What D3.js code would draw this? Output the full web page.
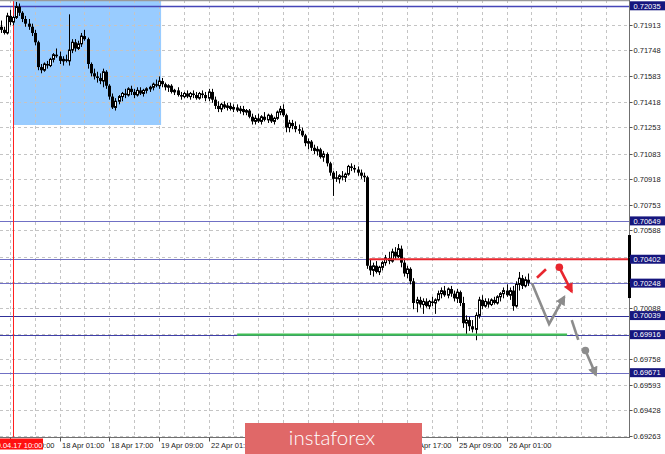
<!DOCTYPE html>
<html><head><meta charset="utf-8">
<script src="https://cdn.jsdelivr.net/npm/d3@7"></script>
<style>html,body{margin:0;padding:0;background:#fff;overflow:hidden}</style>
</head><body><svg id="c" width="665" height="454"></svg>
<script>
// H1 candles [open, high, low, close], first bar 2019.04.17 06:00
const candles = [
[0.7190,0.7194,0.7186,0.7188],[0.7188,0.7190,0.7185,0.7186],[0.7186,0.7199,0.7185,0.7197],[0.7197,0.7201,0.7191,0.7193],
[0.7193,0.7197,0.7191,0.7196],[0.7196,0.7206,0.7195,0.7203],[0.7203,0.7205,0.7197,0.7199],[0.7199,0.7200,0.7193,0.7195],
[0.7195,0.7197,0.7190,0.7192],[0.7192,0.7195,0.7188,0.7190],[0.7190,0.7192,0.7184,0.7186],[0.7186,0.7188,0.7178,0.7180],
[0.7180,0.7181,0.7162,0.7164],[0.7164,0.7166,0.7160,0.7162],[0.7162,0.7167,0.7161,0.7166],[0.7166,0.7168,0.7163,0.7165],
[0.7165,0.7170,0.7164,0.7169],[0.7169,0.7173,0.7167,0.7172],[0.7172,0.7176,0.7170,0.7171],[0.7171,0.7174,0.7166,0.7168],
[0.7168,0.7171,0.7165,0.7169],[0.7169,0.7172,0.7167,0.7168],[0.7168,0.7198,0.7165,0.7175],[0.7175,0.7182,0.7173,0.7180],
[0.7180,0.7182,0.7174,0.7176],[0.7176,0.7181,0.7175,0.7179],[0.7179,0.7186,0.7177,0.7184],[0.7184,0.7188,0.7181,0.7182],
[0.7182,0.7183,0.7163,0.7166],[0.7166,0.7167,0.7158,0.7160],[0.7160,0.7163,0.7156,0.7158],[0.7158,0.7161,0.7154,0.7157],
[0.7157,0.7160,0.7153,0.7155],[0.7155,0.7163,0.7151,0.7161],[0.7161,0.7162,0.7150,0.7152],[0.7152,0.7153,0.7143,0.7145],
[0.7145,0.7147,0.7137,0.7138],[0.7138,0.7144,0.7136,0.7142],[0.7142,0.7146,0.7140,0.7145],[0.7145,0.7148,0.7142,0.7147],
[0.7147,0.7150,0.7144,0.7146],[0.7146,0.7151,0.7145,0.7150],[0.7150,0.7152,0.7146,0.7148],[0.7148,0.7150,0.7144,0.7146],
[0.7146,0.7151,0.7145,0.7149],[0.7149,0.7151,0.7146,0.7147],[0.7147,0.7150,0.7145,0.7149],[0.7149,0.7151,0.7147,0.7150],
[0.7150,0.7152,0.7148,0.7151],[0.7151,0.7154,0.7149,0.7153],[0.7153,0.7156,0.7151,0.7152],[0.7152,0.7158,0.7150,0.7155],
[0.7155,0.7157,0.7151,0.7153],[0.7153,0.7154,0.7149,0.7151],[0.7151,0.7153,0.7148,0.7152],[0.7152,0.7153,0.7147,0.7148],
[0.7148,0.7150,0.7146,0.7149],[0.7149,0.7151,0.7145,0.7146],[0.7146,0.7148,0.7143,0.7145],[0.7145,0.7148,0.7144,0.7147],
[0.7147,0.7149,0.7144,0.7145],[0.7145,0.7148,0.7143,0.7147],[0.7147,0.7149,0.7144,0.7146],[0.7146,0.7148,0.7143,0.7144],
[0.7144,0.7148,0.7143,0.7147],[0.7147,0.7149,0.7144,0.7146],[0.7146,0.7148,0.7142,0.7144],[0.7144,0.7150,0.7142,0.7148],
[0.7148,0.7150,0.7141,0.7143],[0.7143,0.7145,0.7137,0.7139],[0.7139,0.7142,0.7135,0.7137],[0.7137,0.7141,0.7135,0.7140],
[0.7140,0.7142,0.7137,0.7138],[0.7138,0.7141,0.7136,0.7139],[0.7139,0.7141,0.7136,0.7137],[0.7137,0.7140,0.7135,0.7138],
[0.7138,0.7140,0.7135,0.7136],[0.7136,0.7139,0.7134,0.7137],[0.7137,0.7139,0.7133,0.7135],[0.7135,0.7137,0.7133,0.7136],
[0.7136,0.7137,0.7131,0.7132],[0.7132,0.7134,0.7127,0.7129],[0.7129,0.7133,0.7127,0.7131],[0.7131,0.7134,0.7128,0.7129],
[0.7129,0.7133,0.7127,0.7132],[0.7132,0.7135,0.7129,0.7130],[0.7130,0.7134,0.7128,0.7133],[0.7133,0.7134,0.7128,0.7129],
[0.7129,0.7132,0.7127,0.7131],[0.7131,0.7136,0.7130,0.7135],[0.7135,0.7139,0.7133,0.7137],[0.7137,0.7140,0.7132,0.7133],
[0.7133,0.7134,0.7122,0.7125],[0.7125,0.7130,0.7122,0.7128],[0.7128,0.7130,0.7124,0.7126],[0.7126,0.7129,0.7122,0.7124],
[0.7124,0.7127,0.7121,0.7123],[0.7123,0.7125,0.7119,0.7120],[0.7120,0.7121,0.7113,0.7115],[0.7115,0.7118,0.7111,0.7116],
[0.7116,0.7117,0.7110,0.7112],[0.7112,0.7114,0.7108,0.7110],[0.7110,0.7113,0.7107,0.7111],[0.7111,0.7112,0.7105,0.7106],
[0.7106,0.7110,0.7103,0.7108],[0.7108,0.7109,0.7100,0.7102],[0.7102,0.7103,0.7094,0.7096],[0.7096,0.7097,0.7081,0.7092],
[0.7093,0.7097,0.7090,0.7092],[0.7092,0.7095,0.7089,0.7094],[0.7094,0.7097,0.7091,0.7093],[0.7093,0.7096,0.7090,0.7095],
[0.7095,0.7101,0.7094,0.7100],[0.7100,0.7102,0.7097,0.7099],[0.7099,0.7101,0.7096,0.7098],[0.7098,0.7100,0.7094,0.7096],
[0.7096,0.7098,0.7092,0.7094],[0.7094,0.7096,0.7090,0.7093],[0.7093,0.7094,0.7034,0.7036],[0.7036,0.7040,0.7030,0.7033],
[0.7033,0.7038,0.7029,0.7036],[0.7036,0.7039,0.7031,0.7032],[0.7032,0.7036,0.7030,0.7035],[0.7035,0.7039,0.7033,0.7038],
[0.7038,0.7043,0.7036,0.7041],[0.7041,0.7045,0.7037,0.7039],[0.7039,0.7047,0.7038,0.7045],[0.7045,0.7048,0.7040,0.7042],
[0.7042,0.7050,0.7041,0.7047],[0.7047,0.7049,0.7035,0.7038],[0.7038,0.7041,0.7029,0.7031],[0.7031,0.7036,0.7028,0.7034],
[0.7034,0.7035,0.7024,0.7026],[0.7026,0.7028,0.7008,0.7012],[0.7012,0.7016,0.7006,0.7014],[0.7014,0.7016,0.7009,0.7011],
[0.7011,0.7015,0.7005,0.7013],[0.7013,0.7015,0.7009,0.7010],[0.7010,0.7014,0.7008,0.7013],[0.7013,0.7016,0.7010,0.7012],
[0.7012,0.7015,0.7005,0.7014],[0.7014,0.7020,0.7013,0.7018],[0.7018,0.7022,0.7015,0.7020],[0.7020,0.7023,0.7016,0.7017],
[0.7017,0.7022,0.7015,0.7021],[0.7021,0.7023,0.7016,0.7018],[0.7018,0.7020,0.7013,0.7015],[0.7015,0.7021,0.7012,0.7019],
[0.7019,0.7020,0.7010,0.7012],[0.7012,0.7016,0.6996,0.6999],[0.6999,0.7004,0.6992,0.7001],[0.7001,0.7003,0.6994,0.6997],
[0.6997,0.7001,0.6993,0.6995],[0.6995,0.7006,0.6988,0.7004],[0.7004,0.7016,0.7002,0.7014],[0.7014,0.7017,0.7008,0.7010],
[0.7010,0.7015,0.7009,0.7013],[0.7013,0.7015,0.7009,0.7011],[0.7011,0.7015,0.7010,0.7014],[0.7014,0.7016,0.7011,0.7012],
[0.7012,0.7017,0.7011,0.7016],[0.7016,0.7019,0.7013,0.7018],[0.7018,0.7022,0.7015,0.7020],[0.7020,0.7024,0.7016,0.7017],
[0.7017,0.7022,0.7014,0.7020],[0.7020,0.7023,0.7007,0.7010],[0.7010,0.7026,0.7009,0.7024],[0.7024,0.7032,0.7020,0.7028],
[0.7028,0.7030,0.7021,0.7023],[0.7023,0.7029,0.7022,0.7027],[0.7027,0.7031,0.7023,0.7025]
];
// price grid / axis tick values
const gridPrices = [0.69263,0.69428,0.69593,0.69758,0.69923,0.70088,0.70253,0.70418,0.70588,0.70753,0.70918,0.71083,0.71253,0.71418,0.71583,0.71748,0.71913];
// time axis labels every 16 bars, starting at bar 3
const timeLabels = ["17 Apr 09:00","18 Apr 01:00","18 Apr 17:00","19 Apr 09:00","22 Apr 01:00","22 Apr 17:00","23 Apr 09:00","24 Apr 01:00","24 Apr 17:00","25 Apr 09:00","26 Apr 01:00"];
const firstLabelBar = 3, labelStep = 16, gridStep = 8;
// horizontal levels
const levelPrices = [0.72035,0.70649,0.70402,0.70248,0.70039,0.69916,0.69671];
const levelColors = ["#4646b8","#7070c4","#7070c4","#7070c4","#303098","#4040a8","#7070c4"];
const resistance = {price:0.70402, from:118.8};
const support = {price:0.69916, from:76.2, to:182.5};
// blue zone
const zone = {from:4, to:51.7, top:0.7215, bottom:0.71267};
const markerBar = 4, markerLabel = "2019.04.17 10:00";
// forecast arrows [bar, price]
const redDash = [[172.8,0.70283],[175.7,0.70337]];
const redArrow = [[180.0,0.70350],[184.0,0.70193]];
const grayZig = [[171.2,0.70247],[176.7,0.69985],[181.6,0.70160]];
const grayDash = [[184.0,0.70010],[186.1,0.69882]];
const grayArrow = [[188.4,0.69814],[191.8,0.69656]];
const scrollBar = [0.70558, 0.70152];

const PR = 629.5, PB = 437.5;
const svg = d3.select("#c");
const x = d3.scaleLinear().domain([0, 200]).range([0.6, 0.6 + 3.104*200]);
const y = d3.scaleLinear().domain([0.69263, 0.72035]).range([436, 5.8]);

const defs = svg.append("defs");
defs.append("clipPath").attr("id","plot").append("rect").attr("x",0).attr("y",0).attr("width",PR).attr("height",PB);
function head(id, col){
  defs.append("marker").attr("id",id).attr("viewBox","0 0 10 10").attr("refX",8).attr("refY",5)
    .attr("markerWidth",10).attr("markerHeight",10).attr("markerUnits","userSpaceOnUse").attr("orient","auto")
    .append("path").attr("d","M0,0 L10,5 L0,10 Z").attr("fill",col);
}
head("hr","#e8262e"); head("hg","#8c8c8c");

const plot = svg.append("g").attr("clip-path","url(#plot)");
plot.append("rect").attr("x",x(zone.from)).attr("y",y(zone.top)).attr("width",x(zone.to)-x(zone.from))
  .attr("height",y(zone.bottom)-y(zone.top)).attr("fill","#99ccff");
gridPrices.forEach(p=>{
  const yy = Math.round(y(p))+0.5;
  plot.append("line").attr("x1",0).attr("x2",PR).attr("y1",yy).attr("y2",yy)
    .attr("stroke","#c4c4c4").attr("stroke-dasharray","3,3");
});
for(let b=firstLabelBar; x(b) < PR; b+=gridStep){
  const xx = Math.round(x(b))+0.5;
  plot.append("line").attr("x1",xx).attr("x2",xx).attr("y1",0).attr("y2",PB)
    .attr("stroke","#c4c4c4").attr("stroke-dasharray","3,3");
}
levelPrices.forEach((p,i)=>{
  const yy = Math.round(y(p))+0.5;
  plot.append("line").attr("x1",0).attr("x2",PR).attr("y1",yy).attr("y2",yy)
    .attr("stroke",levelColors[i]).attr("stroke-width", i===0?1.5:1);
});
plot.append("line").attr("x1",Math.round(x(markerBar))+0.5).attr("x2",Math.round(x(markerBar))+0.5)
  .attr("y1",0).attr("y2",PB).attr("stroke","#ff2020").attr("stroke-width",1);
const cg = plot.append("g");
candles.forEach((c,i)=>{
  const [o,h,l,cl] = c;
  const xi = Math.round(x(i));
  cg.append("line").attr("x1",xi+0.5).attr("x2",xi+0.5).attr("y1",y(h)).attr("y2",y(l)).attr("stroke","#000").attr("stroke-width",1);
  const t = y(Math.max(o,cl)), bt = y(Math.min(o,cl));
  if(cl >= o){
    cg.append("rect").attr("x",xi-0.5).attr("y",t).attr("width",2).attr("height",Math.max(bt-t,0.5))
      .attr("fill","#fff").attr("stroke","#000").attr("stroke-width",1);
  } else {
    cg.append("rect").attr("x",xi-1).attr("y",t).attr("width",3).attr("height",Math.max(bt-t,1)).attr("fill","#000");
  }
});
plot.append("line").attr("x1",x(resistance.from)).attr("x2",PR-1).attr("y1",y(resistance.price)).attr("y2",y(resistance.price))
  .attr("stroke","#e8262e").attr("stroke-width",2.2);
plot.append("line").attr("x1",x(support.from)).attr("x2",x(support.to)).attr("y1",y(support.price)).attr("y2",y(support.price))
  .attr("stroke","#3fbf52").attr("stroke-width",2.2);
const ln = d3.line().x(d=>x(d[0])).y(d=>y(d[1]));
plot.append("path").attr("d",ln(redDash)).attr("stroke","#e8262e").attr("stroke-width",2.6).attr("fill","none");
plot.append("circle").attr("cx",x(redArrow[0][0])).attr("cy",y(redArrow[0][1])).attr("r",3.8).attr("fill","#e8262e");
plot.append("path").attr("d",ln(redArrow)).attr("stroke","#e8262e").attr("stroke-width",2.6).attr("fill","none").attr("marker-end","url(#hr)");
plot.append("path").attr("d",ln(grayZig)).attr("stroke","#8c8c8c").attr("stroke-width",2.6).attr("fill","none").attr("marker-end","url(#hg)");
plot.append("path").attr("d",ln(grayDash)).attr("stroke","#8c8c8c").attr("stroke-width",2.6).attr("fill","none");
plot.append("circle").attr("cx",x(grayArrow[0][0])).attr("cy",y(grayArrow[0][1])).attr("r",3.8).attr("fill","#8c8c8c");
plot.append("path").attr("d",ln(grayArrow)).attr("stroke","#8c8c8c").attr("stroke-width",2.6).attr("fill","none").attr("marker-end","url(#hg)");

svg.append("line").attr("x1",0).attr("x2",PR).attr("y1",0.5).attr("y2",0.5).attr("stroke","#9a9a9a").attr("stroke-width",1.5);
svg.append("line").attr("x1",PR).attr("x2",PR).attr("y1",0).attr("y2",PB+0.5).attr("stroke","#707070");
svg.append("line").attr("x1",0).attr("x2",PR).attr("y1",PB).attr("y2",PB).attr("stroke","#707070");
svg.append("rect").attr("x",PR-1.5).attr("y",y(scrollBar[0])).attr("width",3).attr("height",y(scrollBar[1])-y(scrollBar[0])).attr("fill","#000");

const font = "'Liberation Sans', Arial, sans-serif";
gridPrices.forEach(p=>{
  const yy = Math.round(y(p))+0.5;
  svg.append("line").attr("x1",PR).attr("x2",PR+3).attr("y1",yy).attr("y2",yy).attr("stroke","#555");
  const hidden = levelPrices.some(l=>Math.abs(y(l)-y(p))<6);
  if(!hidden) svg.append("text").attr("x",633.5).attr("y",yy+2.8).attr("font-family",font).attr("font-size","7.5px")
    .attr("fill","#222").text(p.toFixed(5));
});
levelPrices.forEach(p=>{
  const yy = y(p);
  svg.append("rect").attr("x",630).attr("y",yy-4.5).attr("width",35).attr("height",9).attr("fill","#16167e");
  svg.append("text").attr("x",633.5).attr("y",yy+2.8).attr("font-family",font).attr("font-size","7.5px")
    .attr("fill","#fff").text(p.toFixed(5));
});
timeLabels.forEach((t,k)=>{
  const xx = Math.round(x(firstLabelBar + k*labelStep))+0.5;
  svg.append("line").attr("x1",xx).attr("x2",xx).attr("y1",PB).attr("y2",PB+4).attr("stroke","#555");
  svg.append("text").attr("x",xx+1.5).attr("y",447.5).attr("font-family",font).attr("font-size","7.5px").attr("fill","#222").text(t);
});
const mx = x(markerBar);
svg.append("rect").attr("x",-20).attr("y",438.5).attr("width",mx+50).attr("height",11).attr("fill","#ff1010");
svg.append("text").attr("x",mx+29.5).attr("y",447.5).attr("text-anchor","end").attr("font-family",font)
  .attr("font-size","7.5px").attr("fill","#fff").text(markerLabel);

svg.append("rect").attr("x",245).attr("y",423).attr("width",177).attr("height",31).attr("fill","#e06868");
svg.append("text").attr("x",332).attr("y",445).attr("text-anchor","middle").attr("font-family","Lato, 'Open Sans', sans-serif")
  .attr("font-weight",300).attr("font-size","20.5px").attr("fill","#fff").text("instaforex");
</script></body></html>
